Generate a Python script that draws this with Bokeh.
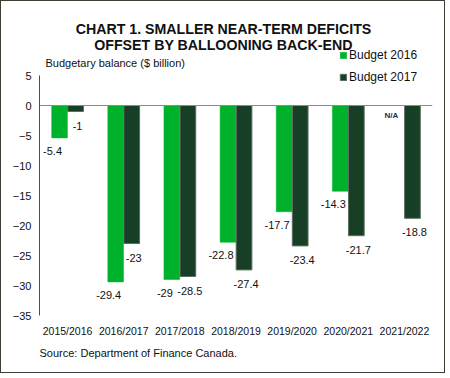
from bokeh.plotting import figure
from bokeh.models import (ColumnDataSource, Range1d, FactorRange, Span, Label,
                          LabelSet, Legend, LegendItem, FixedTicker, Title)
from bokeh.core.properties import value
from bokeh.transform import dodge
from bokeh.embed import file_html
from bokeh.resources import INLINE

categories = ["2015/2016", "2016/2017", "2017/2018", "2018/2019",
              "2019/2020", "2020/2021", "2021/2022"]
budget_2016 = [-5.4, -29.4, -29.0, -22.8, -17.7, -14.3, None]
budget_2017 = [-1.0, -23.0, -28.5, -27.4, -23.4, -21.7, -18.8]
y_ticks = [5, 0, -5, -10, -15, -20, -25, -30, -35]
y_axis_min, y_axis_max = -35, 5

title_lines = ["CHART 1. SMALLER NEAR-TERM DEFICITS", "OFFSET BY BALLOONING BACK-END"]
y_title = "Budgetary balance ($ billion)"
source_note = "Source: Department of Finance Canada."
series_names = ["Budget 2016", "Budget 2017"]

GREEN = "#00b22b"
DARK = "#173f26"
FONT = "Liberation Sans"
TXT = "#111111"

def fmt(v):
    return "N/A" if v is None else ("%g" % v)

src = ColumnDataSource(dict(
    cat=categories,
    b16=[float("nan") if v is None else v for v in budget_2016],
    b17=budget_2017,
    t17=[fmt(v) for v in budget_2017],
))
src_na = ColumnDataSource(dict(
    cat=[c for c, v in zip(categories, budget_2016) if v is None],
    y=[0 for v in budget_2016 if v is None],
    t=["N/A" for v in budget_2016 if v is None],
))
src16 = ColumnDataSource(dict(
    cat=[c for c, v in zip(categories, budget_2016) if v is not None],
    y=[v for v in budget_2016 if v is not None],
    t=[fmt(v) for v in budget_2016 if v is not None],
))

# frame spans the full height above the x axis so that titles are not clipped;
# the y axis itself is bounded to [-35, 5]
PX_PER_UNIT = 6.0
TOP_SPACE = 74  # px above the "5" tick
p = figure(width=445, height=373, output_backend="svg", toolbar_location=None,
           x_range=FactorRange(*categories, range_padding=0),
           y_range=Range1d(y_axis_min, y_axis_max + TOP_SPACE / PX_PER_UNIT),
           min_border_left=38, min_border_right=14, min_border_top=0,
           min_border_bottom=59)
p.outline_line_color = None
p.grid.grid_line_color = None
p.background_fill_color = "white"
p.border_fill_color = "white"
p.styles = {"border": "1px solid #3d3d33", "box-sizing": "border-box"}

W = 0.28
OFF = 0.143
r16 = p.vbar(x=dodge("cat", -OFF, range=p.x_range), top="b16", bottom=0, width=W,
             source=src, fill_color=GREEN, line_color=GREEN, line_width=0.5)
r17 = p.vbar(x=dodge("cat", OFF, range=p.x_range), top="b17", bottom=0, width=W,
             source=src, fill_color=DARK, line_color="#5e6e60", line_width=1)

p.add_layout(Span(location=0, dimension="width", line_color="#8c8c8c", line_width=1))

# axes
p.yaxis.ticker = FixedTicker(ticks=y_ticks)
p.yaxis.bounds = (y_axis_min, y_axis_max)
p.yaxis.axis_line_color = "#4d4d4d"
p.yaxis.major_tick_line_color = None
p.yaxis.minor_tick_line_color = None
p.yaxis.major_tick_out = 0
p.yaxis.major_tick_in = 0
p.yaxis.major_label_standoff = 8
p.yaxis.major_label_text_font = FONT
p.yaxis.major_label_text_font_size = "11px"
p.yaxis.major_label_text_color = TXT

p.xaxis.axis_line_color = None
p.xaxis.major_tick_line_color = None
p.xaxis.major_tick_out = 0
p.xaxis.major_tick_in = 0
p.xaxis.major_label_standoff = 9
p.xaxis.major_label_text_font = FONT
p.xaxis.major_label_text_font_size = "10.5px"
p.xaxis.major_label_text_color = TXT

# data labels
p.add_layout(LabelSet(x=dodge("cat", -OFF, range=p.x_range), y="y", text="t", source=src16,
                      x_offset=-7, y_offset=-13, text_align="center", text_baseline="middle",
                      text_font=value(FONT), text_font_size=value("11px"), text_color=TXT))
p.add_layout(LabelSet(x=dodge("cat", OFF, range=p.x_range), y="b17", text="t17", source=src,
                      x_offset=2, y_offset=-14, text_align="center", text_baseline="middle",
                      text_font=value(FONT), text_font_size=value("11px"), text_color=TXT))
p.add_layout(LabelSet(x=dodge("cat", -OFF, range=p.x_range), y="y", text="t", source=src_na,
                      x_offset=-5, y_offset=-10, text_align="center", text_baseline="middle",
                      text_font=value(FONT), text_font_size=value("8px"),
                      text_font_style="bold", text_color="#1f2a4f"))

# titles (screen units relative to the frame's bottom-left corner)
for txt, sy in zip(title_lines, [287, 271]):
    p.add_layout(Label(x=184, y=sy, x_units="screen", y_units="screen", text=txt,
                       text_align="center", text_baseline="middle", text_font=FONT,
                       text_font_size="14.2px", text_font_style="bold", text_color=TXT))
p.add_layout(Label(x=6, y=253, x_units="screen", y_units="screen", text=y_title,
                   text_align="left", text_baseline="middle", text_font=FONT,
                   text_font_size="11px", text_color=TXT))

p.add_layout(Title(text=source_note, align="left", text_font=FONT, text_font_size="11px",
                   text_font_style="normal", text_color=TXT, standoff=10), "below")

legend = Legend(items=[LegendItem(label=series_names[0], renderers=[r16]),
                       LegendItem(label=series_names[1], renderers=[r17])],
                location=(300, 229), orientation="vertical",
                glyph_width=8, glyph_height=8, label_height=19, spacing=3,
                label_standoff=2, padding=0, margin=0,
                border_line_color=None, background_fill_alpha=0,
                label_text_font=FONT, label_text_font_size="12px",
                label_text_color=TXT)
p.add_layout(legend)

open("out.html", "w").write(file_html(p, INLINE))
